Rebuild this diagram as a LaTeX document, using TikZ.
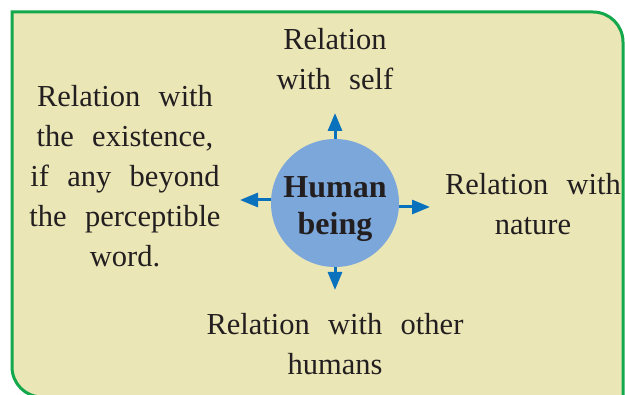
\documentclass[tikz,border=0pt]{standalone}
\usepackage{fontspec}
\setmainfont{Liberation Serif}[WordSpace=2.4]
\usepackage{tikz}
\usepackage{xcolor}
\usetikzlibrary{
    arrows.meta,
    calc,
    positioning
}
\definecolor{paper}{HTML}{EBE6B6}
\definecolor{frameline}{HTML}{13A84B}
\definecolor{blob}{HTML}{7CA7DA}
\definecolor{arrowblue}{HTML}{0A72BC}
\definecolor{ink}{HTML}{231F20}

\begin{document}
\begin{tikzpicture}[x=1pt, y=-1pt,
    label/.style={align=center, anchor=base, text=ink, inner sep=0pt,
        font=\fontsize{30.5}{40}\selectfont},
    relarrow/.style={arrowblue, line width=3pt,
        -{Triangle[length=18pt, width=14pt]}}
    ]
                        \useasboundingbox (0, 0) rectangle (625, 395);
                        \fill[white] (0, 0) rectangle (625, 395);
                        % y runs downwards, so the arcs turn the other way
                        \draw[frameline, fill=paper, line width=3pt]
                        (12, 12) -- (593, 12) arc[start angle=-90, end angle=0, radius=30]
                        -- (623, 397) -- (42, 397) arc[start angle=90, end angle=180, radius=30]
                        -- cycle;
                        \node[circle, fill=blob, minimum size=128pt, inner sep=0pt] (hb) at (335, 203) {};
                        \node[anchor=base, align=center, text=ink,
                            font=\fontsize{32}{37}\selectfont\bfseries] (hbtext) at (335, 235) {Human\\being};
                        \node[label] (self) at (335, 90) {Relation\\with self};
                        \node[label] (exist) at (125, 267) {Relation with\\the existence,\\if any beyond\\the perceptible\\word.};
                        \node[label] (nature) at (533, 235) {Relation with\\nature};
                        \node[label] (others) at (335, 375) {Relation with other\\humans};
                        \coordinate (up) at (335, 113);
                        \coordinate (down) at (335, 290);
                        \coordinate (lft) at (240, 200);
                        \coordinate (rgt) at (430, 207);
                        \draw[relarrow] (hb.north) -- (up);
                        \draw[relarrow] (hb.south) -- (down);
                        \draw[relarrow] (hb.west |- lft) -- (lft);
                        \draw[relarrow] (hb.east |- rgt) -- (rgt);
                    \end{tikzpicture}
\end{document}
